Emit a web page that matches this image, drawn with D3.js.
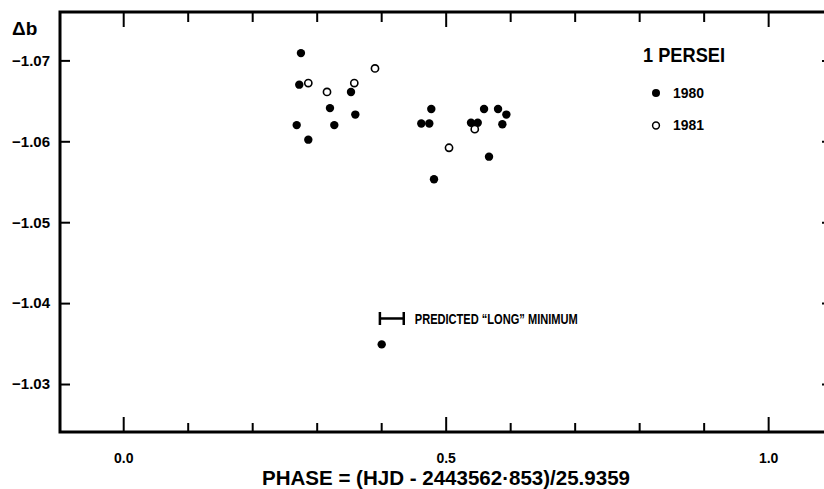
<!DOCTYPE html>
<html>
<head>
<meta charset="utf-8">
<script src="https://cdn.jsdelivr.net/npm/d3@7"></script>
<style>
  body { margin: 0; background: #fff; }
  svg { display: block; }
  .bold { font-family: "Liberation Sans", Arial, sans-serif; font-weight: bold; fill: #000; }
</style>
</head>
<body>
<div id="chart"></div>
<script>
// 1 Persei, delta b against phase
const phase1980 = [0.2756, 0.2730, 0.2690, 0.2870, 0.3206, 0.3273, 0.3532, 0.3599,
  0.4777, 0.4622, 0.4746, 0.4819, 0.5595, 0.5393, 0.5497, 0.5812, 0.5941, 0.5879, 0.5672, 0.4008];
const db1980 = [-1.0709, -1.0670, -1.0620, -1.0602, -1.0641, -1.0620, -1.0661, -1.0633,
  -1.0640, -1.0622, -1.0622, -1.0553, -1.0640, -1.0623, -1.0623, -1.0640, -1.0633, -1.0621, -1.0581, -1.0349];
const phase1981 = [0.2870, 0.3160, 0.3583, 0.3904, 0.5451, 0.5052];
const db1981 = [-1.0672, -1.0661, -1.0672, -1.0690, -1.0615, -1.0592];

const predictedRange = [0.398, 0.435];
const predictedLevel = -1.0381;

const xMajor = [0.0, 0.5, 1.0];
const xMinor = [0.1, 0.2, 0.3, 0.4, 0.6, 0.7, 0.8, 0.9];
const yTicks = [-1.07, -1.06, -1.05, -1.04, -1.03];

const width = 824, height = 489;
const svg = d3.select("#chart").append("svg")
  .attr("width", width).attr("height", height);

const x = d3.scaleLinear().domain([-0.098, 1.099]).range([60, 832]);
const y = d3.scaleLinear().domain([-1.07598, -1.02407]).range([12, 432]);

const plotLeft = x.range()[0], plotRight = x.range()[1];
const plotTop = y.range()[0], plotBottom = y.range()[1];

function styleAxis(g, w) {
  g.select(".domain").remove();
  g.selectAll(".tick line").attr("stroke", "#000").attr("stroke-width", w);
}

// condensed look: squeeze text to the width it has in the scan
function label(xp, yp, size, len, str) {
  return svg.append("text").attr("class", "bold")
    .attr("x", xp).attr("y", yp).attr("font-size", size)
    .attr("textLength", len).attr("lengthAdjust", "spacingAndGlyphs")
    .text(str);
}

// bottom axis
svg.append("g").attr("transform", `translate(0,${plotBottom})`)
  .call(d3.axisBottom(x).tickValues(xMinor).tickSize(-9).tickFormat(""))
  .call(g => styleAxis(g, 2));
svg.append("g").attr("transform", `translate(0,${plotBottom})`)
  .call(d3.axisBottom(x).tickValues(xMajor).tickSize(-15).tickPadding(21).tickFormat(d3.format(".1f")))
  .call(g => styleAxis(g, 2))
  .call(g => g.selectAll("text").attr("class", "bold").attr("font-size", 14));

// top axis
svg.append("g").attr("transform", `translate(0,${plotTop})`)
  .call(d3.axisTop(x).tickValues(xMinor).tickSize(-10).tickFormat(""))
  .call(g => styleAxis(g, 2));
svg.append("g").attr("transform", `translate(0,${plotTop})`)
  .call(d3.axisTop(x).tickValues(xMajor).tickSize(-15).tickFormat(""))
  .call(g => styleAxis(g, 2));

// left axis
svg.append("g").attr("transform", `translate(${plotLeft},0)`)
  .call(d3.axisLeft(y).tickValues(yTicks).tickSize(-10).tickPadding(10)
    .tickFormat(d => "\u2212" + Math.abs(d).toFixed(2)))
  .call(g => styleAxis(g, 2))
  .call(g => g.selectAll("text").attr("class", "bold").attr("font-size", 15));

// right axis
svg.append("g").attr("transform", `translate(${plotRight},0)`)
  .call(d3.axisRight(y).tickValues(yTicks).tickSize(-10).tickFormat(""))
  .call(g => styleAxis(g, 2));

// frame
svg.append("path")
  .attr("d", `M${plotRight},${plotTop}H${plotLeft}V${plotBottom}H${plotRight}`)
  .attr("fill", "none").attr("stroke", "#000").attr("stroke-width", 3);

// axis titles
svg.append("text").attr("class", "bold").attr("x", 12).attr("y", 35)
  .attr("font-size", 19).text("\u0394b");
label(262, 485, 19.5, 368, "PHASE = (HJD - 2443562\u00b7853)/25.9359");

// points
svg.append("g").selectAll("circle")
  .data(d3.zip(phase1980, db1980))
  .join("circle")
  .attr("cx", d => x(d[0])).attr("cy", d => y(d[1]))
  .attr("r", 4.2).attr("fill", "#000");

svg.append("g").selectAll("circle")
  .data(d3.zip(phase1981, db1981))
  .join("circle")
  .attr("cx", d => x(d[0])).attr("cy", d => y(d[1]))
  .attr("r", 3.6).attr("fill", "#fff").attr("stroke", "#000").attr("stroke-width", 1.6);

// predicted long minimum
const py = y(predictedLevel);
const pg = svg.append("g").attr("stroke", "#000").attr("stroke-width", 2.5);
pg.append("line").attr("x1", x(predictedRange[0])).attr("x2", x(predictedRange[1]))
  .attr("y1", py).attr("y2", py);
predictedRange.forEach(p => {
  pg.append("line").attr("x1", x(p)).attr("x2", x(p))
    .attr("y1", py - 6.5).attr("y2", py + 6.5);
});
label(x(predictedRange[1]) + 11, py + 5.5, 15, 163, "PREDICTED \u201cLONG\u201d MINIMUM");

// legend
label(643, 62, 20, 82, "1 PERSEI");
svg.append("circle").attr("cx", 656).attr("cy", 93).attr("r", 4).attr("fill", "#000");
label(673, 97.5, 15, 31, "1980");
svg.append("circle").attr("cx", 656).attr("cy", 125.5).attr("r", 3.4)
  .attr("fill", "#fff").attr("stroke", "#000").attr("stroke-width", 1.5);
label(673, 130, 15, 31, "1981");
</script>
</body>
</html>
